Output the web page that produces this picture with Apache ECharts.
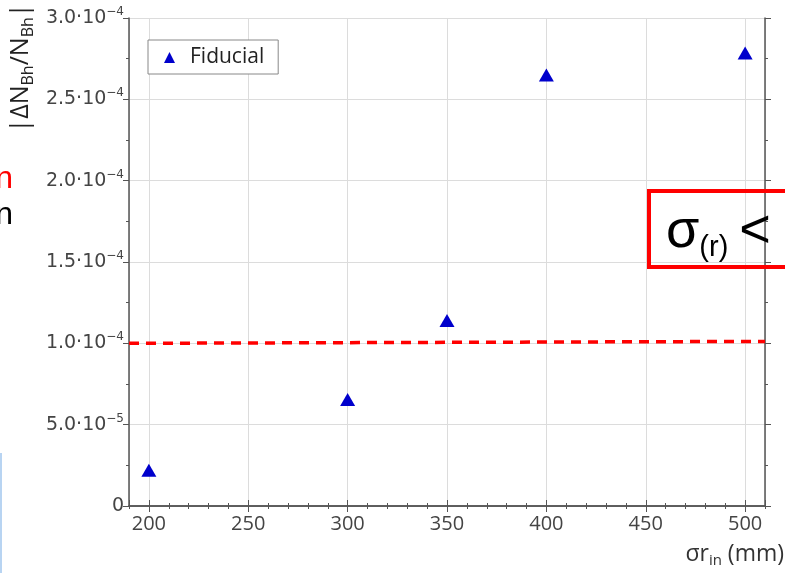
<!DOCTYPE html>
<html>
<head>
<meta charset="utf-8">
<script src="https://cdn.jsdelivr.net/npm/echarts@6/dist/echarts.min.js"></script>
<style>
  html, body { margin: 0; padding: 0; background: #fff; }
  #main { width: 785px; height: 573px; }
</style>
</head>
<body>
<div id="main"></div>
<script>
// data
var sigmaR = [200, 300, 350, 400, 500];
var fiducial = [2.2e-5, 6.55e-5, 1.14e-4, 2.65e-4, 2.785e-4];
var limitX = [190, 510];
var limitY = [1.0e-4, 1.012e-4];

var xMin = 190, xMax = 510;
var yMin = 0, yMax = 3.0e-4;

var font = 'Open Sans';
var yFont = 'DejaVu Sans';
var axisColor = '#555';

function sciLabel(v) {
  if (Math.abs(v) < 1e-12) return '{a|0}';
  var e = Math.floor(Math.log10(v) + 1e-9);
  var m = v / Math.pow(10, e);
  return '{a|' + m.toFixed(1) + '·10}{b|−' + Math.abs(e) + '}';
}

var chart = echarts.init(document.getElementById('main'));

var gridPos = { left: 129, right: 20, top: 18, bottom: 67 };

function xAx(pos, minor, labels) {
  return {
    type: 'value', position: pos, min: xMin, max: xMax,
    interval: minor ? 10 : undefined,
    splitNumber: minor ? undefined : 6,
    axisLine: { show: !minor, lineStyle: { color: axisColor, width: 1.5 } },
    axisTick: { show: true, inside: false, length: minor ? 3 : 6, lineStyle: { color: axisColor } },
    axisLabel: {
      show: labels, margin: 8, color: '#444', fontFamily: font, fontSize: 20,
      showMinLabel: false, showMaxLabel: false
    },
    splitLine: { show: labels, lineStyle: { color: '#dcdcdc', width: 1 } }
  };
}

function yAx(pos, minor, labels) {
  return {
    type: 'value', position: pos, min: yMin, max: yMax,
    interval: minor ? 0.25e-4 : 0.5e-4,
    axisLine: { show: !minor, lineStyle: { color: axisColor, width: 1.5 } },
    axisTick: { show: true, inside: false, length: minor ? 3 : 6, lineStyle: { color: axisColor } },
    axisLabel: {
      show: labels, margin: 5, color: '#444', fontFamily: yFont, fontSize: 19,
      formatter: sciLabel,
      rich: {
        a: { fontSize: 19, fontFamily: yFont, color: '#444', lineHeight: 24 },
        b: { fontSize: 12, fontFamily: yFont, color: '#444', verticalAlign: 'top', padding: [0, 0, 10, 0] }
      }
    },
    splitLine: { show: labels, lineStyle: { color: '#dcdcdc', width: 1 } }
  };
}

var option = {
  animation: false,
  backgroundColor: '#fff',
  grid: gridPos,
  legend: {
    left: 148, top: 40,
    orient: 'vertical',
    backgroundColor: '#fff',
    borderColor: '#888', borderWidth: 1, borderRadius: 0,
    padding: [7, 14, 6, 16],
    itemWidth: 11, itemHeight: 11, itemGap: 4,
    textStyle: { fontFamily: font, fontSize: 21, color: '#222', padding: [0, 0, 0, 10] },
    data: [{ name: 'Fiducial', icon: 'triangle' }]
  },
  xAxis: [
    xAx('bottom', false, true),
    xAx('bottom', true, false),
    xAx('top', false, false),
    xAx('top', true, false)
  ],
  yAxis: [
    yAx('left', false, true),
    yAx('left', true, false),
    yAx('right', false, false),
    yAx('right', true, false)
  ],
  series: [
    {
      name: 'limit', type: 'line', xAxisIndex: 0, yAxisIndex: 0,
      data: limitX.map(function (x, i) { return [x, limitY[i]]; }),
      symbol: 'none',
      lineStyle: { color: '#ff0000', width: 3.5, type: [10, 7] },
      z: 3
    },
    {
      name: 'Fiducial', type: 'scatter', xAxisIndex: 0, yAxisIndex: 0,
      data: sigmaR.map(function (x, i) { return [x, fiducial[i]]; }),
      symbol: 'triangle', symbolSize: [15, 13],
      itemStyle: { color: '#0000cc', opacity: 1 },
      z: 4
    }
  ],
  graphic: [
    {
      type: 'text', x: 21, y: 68, rotation: Math.PI / 2,
      style: {
        text: '{a||ΔN}{s|Bh}{a|/N}{s|Bh}{a||}',
        align: 'center', verticalAlign: 'middle',
        rich: {
          a: { fontSize: 25, fontFamily: font, fill: '#222', lineHeight: 30 },
          s: { fontSize: 16, fontFamily: font, fill: '#222', verticalAlign: 'bottom', padding: [9, 0, 0, 0] }
        }
      }
    },
    {
      type: 'text', x: 784, y: 554,
      style: {
        text: '{a|σr}{s|in}{a| (mm)}',
        align: 'right', verticalAlign: 'middle',
        rich: {
          a: { fontSize: 23, fontFamily: font, fill: '#333', lineHeight: 28 },
          s: { fontSize: 15, fontFamily: font, fill: '#333', verticalAlign: 'bottom', padding: [9, 0, 0, 0] }
        }
      }
    },
    // cut-off slide text on the left
    { type: 'text', x: 13, y: 195, style: { text: 'n', align: 'right', verticalAlign: 'bottom', fontSize: 32, fontFamily: 'Liberation Sans', fill: '#ff0000' } },
    { type: 'text', x: 13, y: 231, style: { text: 'n', align: 'right', verticalAlign: 'bottom', fontSize: 32, fontFamily: 'Liberation Sans', fill: '#000' } },
    { type: 'rect', shape: { x: 0, y: 453, width: 2, height: 120 }, style: { fill: '#b8d4f2' } },
    // red box on the right
    {
      type: 'rect', z: 100,
      shape: { x: 649, y: 191, width: 150, height: 76 },
      style: { fill: 'rgba(255,255,255,0)', stroke: '#ff0000', lineWidth: 4 }
    },
    {
      type: 'text', x: 666, y: 262, z: 100,
      style: {
        text: '{a|σ}{s|(r)}{a|<}',
        align: 'left', verticalAlign: 'bottom',
        rich: {
          a: { fontSize: 54, fontFamily: 'Liberation Sans', fill: '#000', lineHeight: 56 },
          s: { fontSize: 29, fontFamily: 'Liberation Sans', fill: '#000', verticalAlign: 'bottom', padding: [30, 11, 0, 0] }
        }
      }
    }
  ]
};

chart.setOption(option);
</script>
</body>
</html>
